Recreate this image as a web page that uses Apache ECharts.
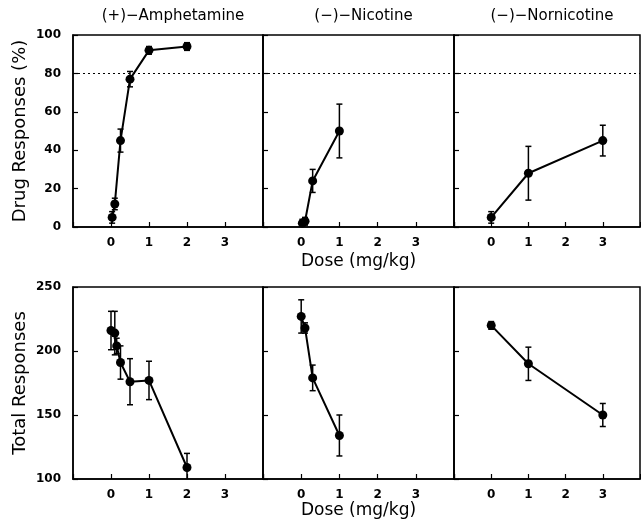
<!DOCTYPE html>
<html>
<head>
<meta charset="utf-8">
<script src="https://cdn.jsdelivr.net/npm/echarts@6/dist/echarts.min.js"></script>
<style>
  html, body { margin: 0; padding: 0; background: #fff; }
  #chart { width: 641px; height: 520px; }
</style>
</head>
<body>
<div id="chart"></div>
<script>
var chartDom = document.getElementById('chart');
var myChart = echarts.init(chartDom);

// panel titles and tick labels
var titles = ['(+)\u2212Amphetamine', '(\u2212)\u2212Nicotine', '(\u2212)\u2212Nornicotine'];
var doseTicks = [0, 1, 2, 3];

// (+)-amphetamine
var ampDose = [0.03, 0.1, 0.25, 0.5, 1, 2];
var ampDrug = [5, 12, 45, 77, 92, 94];
var ampDrugErr = [3, 3, 6, 4, 2, 2];
var ampTotDose = [0, 0.1, 0.15, 0.25, 0.5, 1, 2];
var ampTot = [216, 214, 204, 191, 176, 177, 109];
var ampTotErr = [15, 17, 6, 13, 18, 15, 11];

// (-)-nicotine
var nicDose = [0.03, 0.1, 0.3, 1];
var nicDrug = [2, 3, 24, 50];
var nicDrugErr = [2, 2, 6, 14];
var nicTotDose = [0, 0.1, 0.3, 1];
var nicTot = [227, 218, 179, 134];
var nicTotErr = [13, 4, 10, 16];

// (-)-nornicotine
var norDose = [0, 1, 3];
var norDrug = [5, 28, 45];
var norDrugErr = [3, 14, 8];
var norTot = [220, 190, 150];
var norTotErr = [3, 13, 9];

var criterion = 80;

var lefts = [73, 263, 454];
var widths = [190, 191, 186];
var tops = [35, 287];
var panelH = 192;

var panels = [
  { row: 0, col: 0, x: ampDose, y: ampDrug, e: ampDrugErr },
  { row: 0, col: 1, x: nicDose, y: nicDrug, e: nicDrugErr },
  { row: 0, col: 2, x: norDose, y: norDrug, e: norDrugErr },
  { row: 1, col: 0, x: ampTotDose, y: ampTot, e: ampTotErr },
  { row: 1, col: 1, x: nicTotDose, y: nicTot, e: nicTotErr },
  { row: 1, col: 2, x: norDose, y: norTot, e: norTotErr }
];

var font = 'DejaVu Sans';
var grid = [], xAxis = [], yAxis = [], series = [];

panels.forEach(function (p, i) {
  var top = p.row === 0;
  grid.push({
    left: lefts[p.col], top: tops[p.row], width: widths[p.col], height: panelH,
    containLabel: false, outerBoundsMode: 'none',
    show: true, borderColor: '#000', borderWidth: 1.5, backgroundColor: 'transparent'
  });
  xAxis.push({
    type: 'value', gridIndex: i, min: -1, max: 4, interval: 1,
    axisLine: { show: true, onZero: false, lineStyle: { color: '#000', width: 1.5 } },
    axisTick: { show: true, inside: true, length: 5, lineStyle: { color: '#000', width: 1.2 } },
    axisLabel: {
      color: '#000', fontFamily: font, fontWeight: 'bold', fontSize: 12, margin: 10,
      formatter: function (v) { return doseTicks.indexOf(v) >= 0 ? String(v) : ''; }
    },
    splitLine: { show: false },
    name: p.col === 1 ? 'Dose (mg/kg)' : '',
    nameLocation: 'middle', nameGap: top ? 26 : 23,
    nameTextStyle: { color: '#000', fontFamily: font, fontSize: 17 }
  });
  yAxis.push({
    type: 'value', gridIndex: i,
    min: top ? 0 : 100, max: top ? 100 : 250, interval: top ? 20 : 50,
    axisLine: { show: true, onZero: false, lineStyle: { color: '#000', width: 1.5 } },
    axisTick: { show: true, inside: true, length: 5, lineStyle: { color: '#000', width: 1.2 } },
    axisLabel: { show: p.col === 0, color: '#000', fontFamily: font, fontWeight: 'bold', fontSize: 12, margin: 12 },
    splitLine: { show: false },
    name: p.col === 0 ? (top ? 'Drug Responses (%)' : 'Total Responses') : '',
    nameLocation: 'middle', nameRotate: 90, nameGap: 44,
    nameTextStyle: { color: '#000', fontFamily: font, fontSize: 18 }
  });

  var pts = p.x.map(function (d, k) { return [d, p.y[k]]; });
  var bars = p.x.map(function (d, k) { return [d, p.y[k] - p.e[k], p.y[k] + p.e[k]]; });

  series.push({
    type: 'custom', xAxisIndex: i, yAxisIndex: i, clip: true, z: 3,
    renderItem: function (params, api) {
      var hi = api.coord([api.value(0), api.value(2)]);
      var lo = api.coord([api.value(0), api.value(1)]);
      var c = 3;
      var st = { stroke: '#000', lineWidth: 1.5 };
      return {
        type: 'group',
        children: [
          { type: 'line', shape: { x1: hi[0], y1: hi[1], x2: lo[0], y2: lo[1] }, style: st },
          { type: 'line', shape: { x1: hi[0] - c, y1: hi[1], x2: hi[0] + c, y2: hi[1] }, style: st },
          { type: 'line', shape: { x1: lo[0] - c, y1: lo[1], x2: lo[0] + c, y2: lo[1] }, style: st }
        ]
      };
    },
    encode: { x: 0, y: [1, 2] },
    data: bars
  });

  var line = {
    type: 'line', xAxisIndex: i, yAxisIndex: i, z: 4,
    symbol: 'circle', symbolSize: 9,
    itemStyle: { color: '#000' },
    lineStyle: { color: '#000', width: 2 },
    data: pts, animation: false
  };
  if (top) {
    line.markLine = {
      silent: true, symbol: 'none', label: { show: false },
      lineStyle: { color: '#000', type: [2, 3], width: 1.2 },
      data: [{ yAxis: criterion }]
    };
  }
  series.push(line);
});

var title = titles.map(function (t, c) {
  return {
    text: t, left: lefts[c] + widths[c] / 2, top: 4, textAlign: 'center',
    textStyle: { color: '#000', fontFamily: font, fontSize: 15, fontWeight: 'normal' }
  };
});

myChart.setOption({
  animation: false,
  title: title,
  grid: grid,
  xAxis: xAxis,
  yAxis: yAxis,
  series: series
});
</script>
</body>
</html>
